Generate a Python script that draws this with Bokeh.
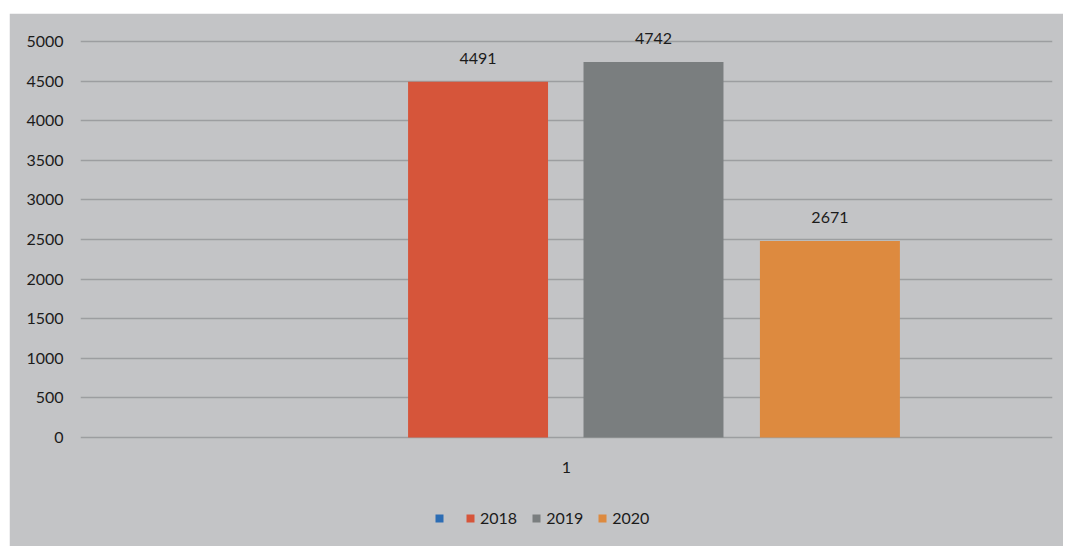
from bokeh.plotting import figure
from bokeh.models import (ColumnDataSource, FactorRange, Range1d, FixedTicker,
                          Legend, LegendItem, Spacer)
from bokeh.layouts import column, row
from bokeh.transform import dodge
from bokeh.core.properties import value
from bokeh.embed import file_html
from bokeh.resources import INLINE

# ---- data ----
categories = ["1"]
series_names = [" ", "2018", "2019", "2020"]
series_values = [0, 4491, 4742, 2480]          # bar heights as drawn
label_texts = ["", "4491", "4742", "2671"]     # data labels as printed
series_colors = ["#2c6db4", "#d6553a", "#7a7e7f", "#dd8a3f"]
y_ticks = [0, 500, 1000, 1500, 2000, 2500, 3000, 3500, 4000, 4500, 5000]

BG = "#c3c4c6"
GRID = "#9c9ea0"
TXT = "#1b1b1b"
FONT = "Lato"

p = figure(width=1054, height=533, x_range=FactorRange(*categories),
           y_range=Range1d(-1376, 5265), output_backend="svg",
           toolbar_location=None,
           min_border_left=71, min_border_right=11, min_border_top=7,
           min_border_bottom=0)
p.background_fill_color = BG
p.border_fill_color = BG
p.outline_line_color = BG
p.outline_line_width = 2

offsets = [-0.272, -0.091, 0.0895, 0.271]
bar_w = 0.144
items = []
for name, val, lab, col, off in zip(series_names, series_values, label_texts,
                                     series_colors, offsets):
    src = ColumnDataSource(dict(x=categories, top=[val], label=[lab]))
    r = p.vbar(x=dodge("x", off, range=p.x_range), top="top", bottom=0,
               width=bar_w, source=src, fill_color=col, line_color=None)
    p.text(x=dodge("x", off, range=p.x_range), y="top", text="label", source=src,
           text_align="center", text_baseline="bottom", y_offset=-18,
           text_font=value(FONT), text_font_size="16px", text_color=TXT)
    items.append(LegendItem(label=name, renderers=[r]))

# category label under the axis line
cat_src = ColumnDataSource(dict(x=categories, y=[0] * len(categories),
                                label=categories))
p.text(x="x", y="y", text="label", source=cat_src, text_align="center",
       text_baseline="middle", y_offset=30, text_font=value(FONT),
       text_font_size="16px", text_color=TXT)

# axes
p.xaxis.visible = False
p.yaxis.ticker = FixedTicker(ticks=y_ticks)
p.yaxis.axis_line_color = None
p.yaxis.major_tick_line_color = None
p.yaxis.minor_tick_line_color = None
p.yaxis.major_label_standoff = 11
p.yaxis.major_label_text_font = FONT
p.yaxis.major_label_text_font_size = "16px"
p.yaxis.major_label_text_color = TXT

p.xgrid.grid_line_color = None
p.ygrid.ticker = FixedTicker(ticks=y_ticks)
p.ygrid.grid_line_color = GRID
p.ygrid.grid_line_width = 1.5

legend = Legend(items=items, orientation="horizontal", location=(354, 19),
                glyph_width=10, glyph_height=10, label_standoff=5, spacing=14,
                label_width=2,
                label_text_font=FONT, label_text_font_size="16px",
                label_text_color=TXT, background_fill_alpha=0,
                border_line_color=None, padding=4, margin=0)
p.add_layout(legend)

layout = column(Spacer(width=1063, height=13),
                row(Spacer(width=9, height=533), p, spacing=0), spacing=0)
open("out.html", "w").write(file_html(layout, INLINE))
